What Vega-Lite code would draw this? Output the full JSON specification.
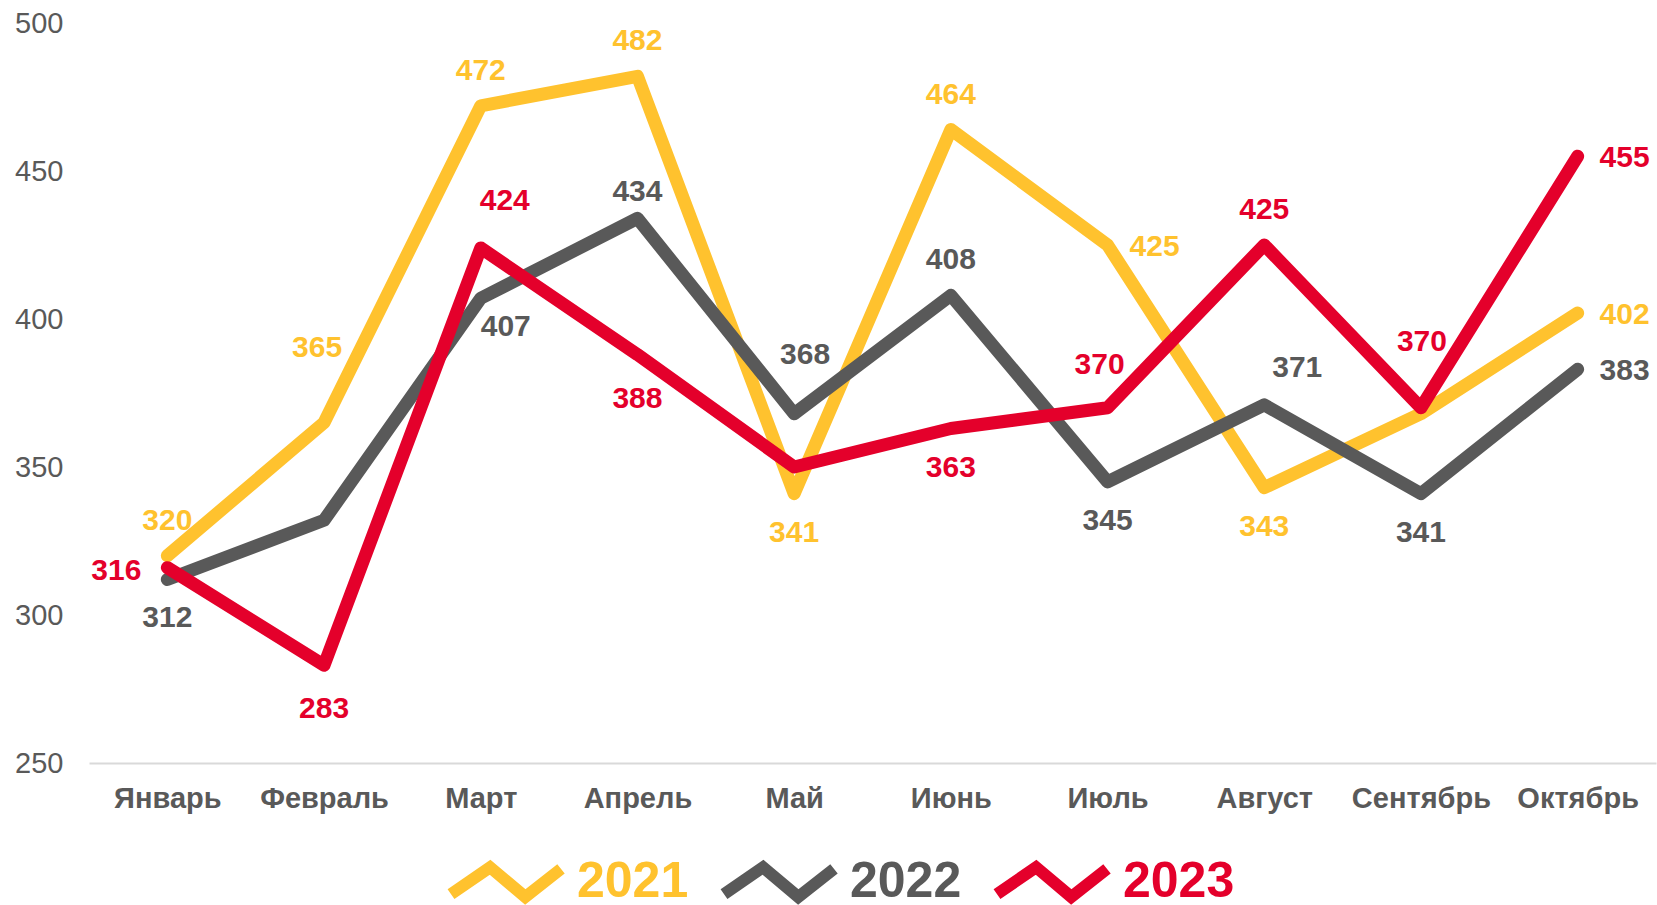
{
  "$schema": "https://vega.github.io/schema/vega-lite/v6.json",
  "autosize": {"type": "none"},
  "width": 1567,
  "height": 740,
  "padding": {"left": 89, "top": 23, "right": 1, "bottom": 142},
  "background": "white",
  "config": {
    "view": {"stroke": null},
    "font": "Liberation Sans"
  },
  "data": {
    "values": [
      {"month": "Январь", "year": "2021", "value": 320},
      {"month": "Февраль", "year": "2021", "value": 365},
      {"month": "Март", "year": "2021", "value": 472},
      {"month": "Апрель", "year": "2021", "value": 482},
      {"month": "Май", "year": "2021", "value": 341},
      {"month": "Июнь", "year": "2021", "value": 464},
      {"month": "Июль", "year": "2021", "value": 425},
      {"month": "Август", "year": "2021", "value": 343},
      {"month": "Сентябрь", "year": "2021", "value": 368},
      {"month": "Октябрь", "year": "2021", "value": 402},
      {"month": "Январь", "year": "2022", "value": 312},
      {"month": "Февраль", "year": "2022", "value": 332},
      {"month": "Март", "year": "2022", "value": 407},
      {"month": "Апрель", "year": "2022", "value": 434},
      {"month": "Май", "year": "2022", "value": 368},
      {"month": "Июнь", "year": "2022", "value": 408},
      {"month": "Июль", "year": "2022", "value": 345},
      {"month": "Август", "year": "2022", "value": 371},
      {"month": "Сентябрь", "year": "2022", "value": 341},
      {"month": "Октябрь", "year": "2022", "value": 383},
      {"month": "Январь", "year": "2023", "value": 316},
      {"month": "Февраль", "year": "2023", "value": 283},
      {"month": "Март", "year": "2023", "value": 424},
      {"month": "Апрель", "year": "2023", "value": 388},
      {"month": "Май", "year": "2023", "value": 350},
      {"month": "Июнь", "year": "2023", "value": 363},
      {"month": "Июль", "year": "2023", "value": 370},
      {"month": "Август", "year": "2023", "value": 425},
      {"month": "Сентябрь", "year": "2023", "value": 370},
      {"month": "Октябрь", "year": "2023", "value": 455}
    ]
  },
  "encoding": {
    "x": {
      "field": "month",
      "type": "nominal",
      "sort": ["Январь", "Февраль", "Март", "Апрель", "Май", "Июнь", "Июль", "Август", "Сентябрь", "Октябрь"],
      "scale": {"type": "point", "padding": 0.5},
      "axis": {
        "title": null,
        "labelAngle": 0,
        "labelFont": "Liberation Sans",
        "labelFontWeight": "bold",
        "labelFontSize": 29,
        "labelColor": "#595959",
        "labelPadding": 21,
        "ticks": false,
        "grid": false,
        "domain": true,
        "domainColor": "#D9D9D9",
        "domainWidth": 2
      }
    },
    "y": {
      "field": "value",
      "type": "quantitative",
      "scale": {"domain": [250, 500], "nice": false, "zero": false},
      "axis": {
        "title": null,
        "values": [250, 300, 350, 400, 450, 500],
        "labelFont": "Liberation Sans",
        "labelFontSize": 29,
        "labelColor": "#595959",
        "labelPadding": 26,
        "ticks": false,
        "grid": false,
        "domain": false
      }
    },
    "color": {
      "field": "year",
      "type": "nominal",
      "scale": {"domain": ["2021", "2022", "2023"], "range": ["#FFC22E", "#595959", "#E4002B"]},
      "legend": {
        "title": null,
        "orient": "none",
        "direction": "horizontal",
        "legendX": 356,
        "legendY": 798,
        "symbolType": "M-1,0.22L-0.29,-0.27L0.35,0.27L1,-0.24",
        "symbolSize": 12100,
        "symbolStrokeWidth": 12,
        "symbolFillColor": "transparent",
        "labelFont": "Liberation Sans",
        "labelFontSize": 50,
        "labelFontWeight": "bold",
        "labelOffset": 10,
        "columnPadding": 11,
        "padding": 0,
        "encode": {
          "labels": {"update": {"fill": {"scale": "color", "field": "value"}}},
          "symbols": {"update": {"fill": {"value": "transparent"}, "fillOpacity": {"value": 0}, "strokeCap": {"value": "butt"}}}
        }
      }
    }
  },
  "layer": [
    {
      "mark": {"type": "line", "strokeWidth": 13, "strokeCap": "round", "strokeJoin": "round"}
    },
    {
      "transform": [{"filter": "indexof(['2021Январь','2021Март','2021Апрель','2021Июнь','2022Июнь','2023Август'], datum.year + datum.month) >= 0"}],
      "mark": {"type": "text", "fontSize": 30, "fontWeight": "bold", "font": "Liberation Sans", "baseline": "middle", "align": "center", "dy": -35},
      "encoding": {"text": {"field": "value"}}
    },
    {
      "transform": [{"filter": "indexof(['2021Май','2021Август','2022Январь','2022Июль','2022Сентябрь','2023Июнь'], datum.year + datum.month) >= 0"}],
      "mark": {"type": "text", "fontSize": 30, "fontWeight": "bold", "font": "Liberation Sans", "baseline": "middle", "align": "center", "dy": 39},
      "encoding": {"text": {"field": "value"}}
    },
    {
      "transform": [{"filter": "indexof(['2023Февраль','2023Апрель'], datum.year + datum.month) >= 0"}],
      "mark": {"type": "text", "fontSize": 30, "fontWeight": "bold", "font": "Liberation Sans", "baseline": "middle", "align": "center", "dy": 44},
      "encoding": {"text": {"field": "value"}}
    },
    {
      "transform": [{"filter": "indexof(['2021Июль','2021Октябрь','2022Октябрь','2023Октябрь'], datum.year + datum.month) >= 0"}],
      "mark": {"type": "text", "fontSize": 30, "fontWeight": "bold", "font": "Liberation Sans", "baseline": "middle", "align": "center", "dx": 47, "dy": 2},
      "encoding": {"text": {"field": "value"}}
    },
    {
      "transform": [{"filter": "datum.year + datum.month == '2023Январь'"}],
      "mark": {"type": "text", "fontSize": 30, "fontWeight": "bold", "font": "Liberation Sans", "baseline": "middle", "align": "center", "dx": -51, "dy": 3},
      "encoding": {"text": {"field": "value"}}
    },
    {
      "transform": [{"filter": "datum.year + datum.month == '2021Февраль'"}],
      "mark": {"type": "text", "fontSize": 30, "fontWeight": "bold", "font": "Liberation Sans", "baseline": "middle", "align": "center", "dx": -7, "dy": -75},
      "encoding": {"text": {"field": "value"}}
    },
    {
      "transform": [{"filter": "datum.year + datum.month == '2022Март'"}],
      "mark": {"type": "text", "fontSize": 30, "fontWeight": "bold", "font": "Liberation Sans", "baseline": "middle", "align": "center", "dx": 25, "dy": 29},
      "encoding": {"text": {"field": "value"}}
    },
    {
      "transform": [{"filter": "datum.year + datum.month == '2022Апрель'"}],
      "mark": {"type": "text", "fontSize": 30, "fontWeight": "bold", "font": "Liberation Sans", "baseline": "middle", "align": "center", "dy": -26},
      "encoding": {"text": {"field": "value"}}
    },
    {
      "transform": [{"filter": "datum.year + datum.month == '2022Май'"}],
      "mark": {"type": "text", "fontSize": 30, "fontWeight": "bold", "font": "Liberation Sans", "baseline": "middle", "align": "center", "dx": 11, "dy": -59},
      "encoding": {"text": {"field": "value"}}
    },
    {
      "transform": [{"filter": "datum.year + datum.month == '2022Август'"}],
      "mark": {"type": "text", "fontSize": 30, "fontWeight": "bold", "font": "Liberation Sans", "baseline": "middle", "align": "center", "dx": 33, "dy": -37},
      "encoding": {"text": {"field": "value"}}
    },
    {
      "transform": [{"filter": "datum.year + datum.month == '2023Март'"}],
      "mark": {"type": "text", "fontSize": 30, "fontWeight": "bold", "font": "Liberation Sans", "baseline": "middle", "align": "center", "dx": 24, "dy": -47},
      "encoding": {"text": {"field": "value"}}
    },
    {
      "transform": [{"filter": "datum.year + datum.month == '2023Июль'"}],
      "mark": {"type": "text", "fontSize": 30, "fontWeight": "bold", "font": "Liberation Sans", "baseline": "middle", "align": "center", "dx": -8, "dy": -43},
      "encoding": {"text": {"field": "value"}}
    },
    {
      "transform": [{"filter": "datum.year + datum.month == '2023Сентябрь'"}],
      "mark": {"type": "text", "fontSize": 30, "fontWeight": "bold", "font": "Liberation Sans", "baseline": "middle", "align": "center", "dx": 1, "dy": -66},
      "encoding": {"text": {"field": "value"}}
    }
  ]
}
